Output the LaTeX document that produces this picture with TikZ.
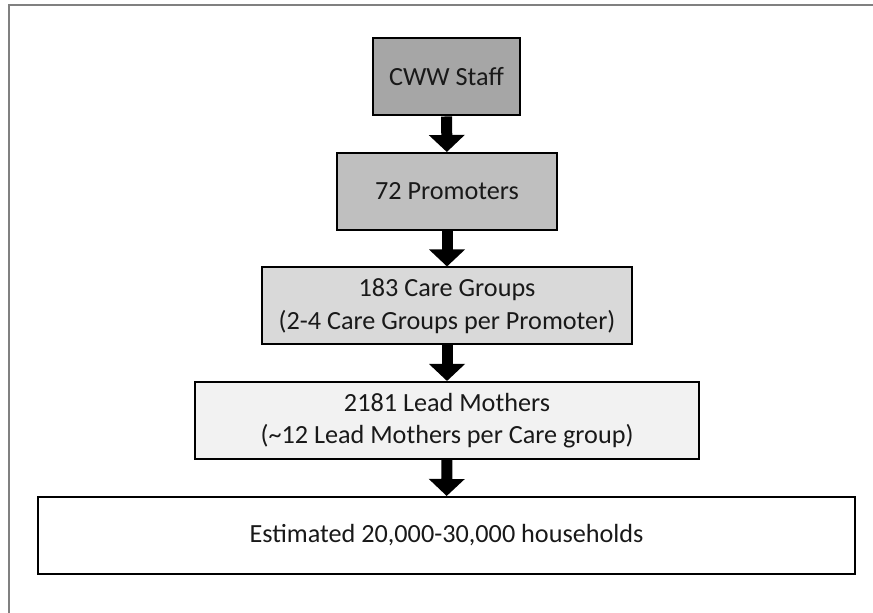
\documentclass[tikz,border=0pt]{standalone}
\usepackage{fontspec}
\setmainfont{Carlito}
\usetikzlibrary{arrows.meta}

\begin{document}
\begin{tikzpicture}[x=0.5pt,y=-0.5pt,
		box/.style={draw=black, line width=1pt, minimum height=38.5pt, inner sep=0pt, align=center, font=\fontsize{13.1pt}{16.3pt}\selectfont, text=black!90},
		flow/.style={line width=5.5pt, -{Triangle[width=17.5pt,length=8.5pt]}}]
		\useasboundingbox (0,0) rectangle (873,613);
		\draw [gray, line width=1pt] (8.5,613) -- (8.5,5.5) -- (873,5.5);
		\node (staff) at (446.5,77) [box, fill=black!35, minimum width=73.5pt] {CWW Staff};
		\node (promoters) at (447,191.5) [box, fill=black!25, minimum width=110pt] {72 Promoters};
		\node (groups) at (447,306) [box, fill=black!15, minimum width=185pt] {183 Care Groups\\(2-4 Care Groups per Promoter)};
		\node (mothers) at (447,420.5) [box, fill=black!5, minimum width=252pt] {2181 Lead Mothers\\(\textasciitilde12 Lead Mothers per Care group)};
		\node (households) at (446.5,535.5) [box, fill=white, minimum width=408.5pt] {Estimated 20,000-30,000 households};
		\draw [flow] (staff) -- (promoters);
		\draw [flow] (promoters) -- (groups);
		\draw [flow] (groups) -- (mothers);
		\draw [flow] (mothers) -- (households);
	\end{tikzpicture}
\end{document}
